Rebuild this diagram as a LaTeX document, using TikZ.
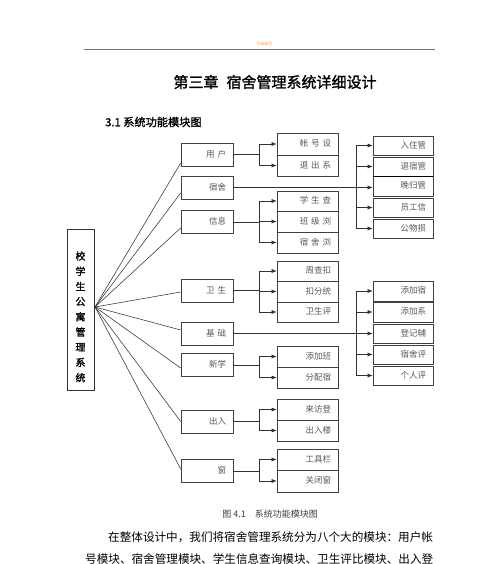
\documentclass[tikz,border=0pt]{standalone}
\usepackage{fontspec}
\setmainfont{Noto Sans CJK SC}
\newfontfamily\cjkb[FakeBold=1.5]{Noto Sans CJK SC}
\usetikzlibrary{arrows.meta,calc}
\tikzset{
  bx/.style={draw=black!75, line width=0.6pt, inner sep=0pt, inner xsep=7pt,
    font=\fontsize{8.5}{9}\selectfont, text=black!65, align=right,
    text height=7pt, text depth=1.5pt},
  lv/.style={bx, minimum width=52pt, text width=38pt, minimum height=23pt},
  md/.style={bx, minimum width=61pt, text width=47pt},
  rt/.style={bx, minimum width=60pt, text width=46pt},
  conn/.style={draw=black!80, line width=0.55pt},
  arr/.style={conn, -{Latex[length=5pt,width=4pt]}},
  fan/.style={draw=black!80, line width=0.55pt}
}
\begin{document}
\begin{tikzpicture}[x=1pt,y=-1pt]
\useasboundingbox (0,0) rectangle (500,564);
\fill[white] (0,0) rectangle (500,564);
% header
\node[font=\fontsize{4}{4}\selectfont, text=orange!70] (hdr) at (265,44) {文档编号:};
\coordinate (hl) at (84,49);
\coordinate (hr) at (435,49);
\draw[black!55, line width=0.8pt] (hl) -- (hr);
\node[font=\cjkb\fontsize{15}{16}\selectfont] (title) at (275,82) {第三章\hspace{8pt}宿舍管理系统详细设计};
\node[font=\cjkb\fontsize{11.2}{12}\selectfont, anchor=west, inner sep=0] (sec) at (105,122) {3.1 系统功能模块图};

% main box
\node[draw=black!80, line width=0.7pt, minimum width=27pt, minimum height=161pt, inner sep=0] (main) at (80.5,309.5) {};
\foreach \c [count=\i] in {校,学,生,公,寓,管,理,系,统}{
  \node[font=\cjkb\fontsize{10}{10}\selectfont, inner sep=0] (m\i) at (80.5,{256+(\i-1)*15.2}) {\c};
}
\coordinate (fp) at (95,307);

% level 2
\node[lv] (u) at (207,154.5) {用\ 户};
\node[lv] (s) at (207,187.5) {宿舍};
\node[lv] (x) at (207,222) {信息};
\node[lv] (w) at (207,290.5) {卫\ 生};
\node[lv] (j) at (207,333.5) {基\ 础};
\node[lv] (n) at (207,365) {新学};
\node[lv] (c) at (207,421.5) {出入};
\node[lv] (d) at (207,471) {窗};

% fan lines
\draw[fan] (fp) -- ([yshift=-8.5pt]u.west);
\draw[fan] (fp) -- ([yshift=-5.5pt]s.west);
\draw[fan] (fp) -- ([yshift=-6pt]x.west);
\draw[fan] (fp) -- ([yshift=-1.5pt]w.west);
\draw[fan] (fp) -- ([yshift=3.5pt]j.west);
\draw[fan] (fp) -- ([yshift=-3pt]n.west);
\draw[fan] (fp) -- (c.west);
\draw[fan] (fp) -- ([yshift=2pt]d.west);

% middle column
\node[md, minimum height=22pt] (u1) at (307.5,144) {帐\ 号\ 设};
\node[md, minimum height=21pt] (u2) at (307.5,165.5) {退\ 出\ 系};
\node[md, minimum height=20pt] (x1) at (307.5,201) {学\ 生\ 查};
\node[md, minimum height=21pt] (x2) at (307.5,221.5) {班\ 级\ 浏};
\node[md, minimum height=21pt] (x3) at (307.5,242.5) {宿\ 舍\ 浏};
\node[md, minimum height=20pt] (w1) at (307.5,271) {周查扣};
\node[md, minimum height=21pt] (w2) at (307.5,291.5) {扣分统};
\node[md, minimum height=20pt] (w3) at (307.5,312) {卫生评};
\node[md, minimum height=21pt] (n1) at (307.5,356.5) {添加班};
\node[md, minimum height=21pt] (n2) at (307.5,377.5) {分配宿};
\node[md, minimum height=21pt] (c1) at (307.5,409.5) {来访登};
\node[md, minimum height=21pt] (c2) at (307.5,430.5) {出入楼};
\node[md, minimum height=21pt] (d1) at (307.5,459.5) {工具栏};
\node[md, minimum height=22pt] (d2) at (307.5,481) {关闭窗};

% right column
\node[rt, minimum height=19pt] (r1) at (403,145.5) {入住管};
\node[rt, minimum height=19pt] (r2) at (403,166.5) {退宿管};
\node[rt, minimum height=20pt] (r3) at (403,186) {晚归管};
\node[rt, minimum height=19pt] (r4) at (403,207.5) {员工信};
\node[rt, minimum height=19pt] (r5) at (403,228.5) {公物损};
\node[rt, minimum height=20pt] (q1) at (403,291) {添加宿};
\node[rt, minimum height=20pt] (q2) at (403,312) {添加系};
\node[rt, minimum height=19pt] (q3) at (403,333.5) {登记辅};
\node[rt, minimum height=19pt] (q4) at (403,354.5) {宿舍评};
\node[rt, minimum height=19pt] (q5) at (403,375.5) {个人评};
\draw[black, line width=1.4pt] (r2.south west) -- (r2.south east);

% branch coordinates
\coordinate (b1) at (259,0);
\coordinate (b2) at (356,0);

% connectors: level2 -> middle column
\foreach \p/\kids in {u/{u1,u2}, x/{x1,x2,x3}, w/{w1,w2,w3}, n/{n1,n2}, c/{c1,c2}, d/{d1,d2}}{
  \draw[conn] (\p.east) -- (\p.east -| b1);
  \foreach \k in \kids {
    \draw[arr] (\k.west -| b1) -- (\k.west);
  }
}
\draw[conn] (u1.west -| b1) -- (u2.west -| b1);
\draw[conn] (x1.west -| b1) -- (x3.west -| b1);
\draw[conn] (w1.west -| b1) -- (w3.west -| b1);
\draw[conn] (n1.west -| b1) -- (n2.west -| b1);
\draw[conn] (c1.west -| b1) -- (c2.west -| b1);
\draw[conn] (d1.west -| b1) -- (d2.west -| b1);

% connectors: level2 -> right column
\draw[conn] (s.east) -- (s.east -| b2);
\draw[conn] (r1.west -| b2) -- (r5.west -| b2);
\foreach \k in {r1,r2,r4,r5} { \draw[arr] (\k.west -| b2) -- (\k.west); }
\draw[arr] (s.east -| b2) -- (s.east -| r3.west);
\draw[conn] (j.east) -- (j.east -| b2);
\draw[conn] (q1.west -| b2) -- (q5.west -| b2);
\foreach \k in {q1,q2,q4,q5} { \draw[arr] (\k.west -| b2) -- (\k.west); }
\draw[arr] (j.east -| b2) -- (j.east -| q3.west);

% caption and body text
\node[font=\fontsize{9}{9}\selectfont, text=black!75] (cap) at (270,514) {图 4.1\quad 系统功能模块图};
\node[font=\fontsize{11.6}{12}\selectfont, anchor=west, inner sep=0] (t1) at (108,537) {在整体设计中，我们将宿舍管理系统分为八个大的模块：用户帐};
\node[font=\fontsize{11.6}{12}\selectfont, anchor=west, inner sep=0] (t2) at (85,559) {号模块、宿舍管理模块、学生信息查询模块、卫生评比模块、出入登};
\end{tikzpicture}
\end{document}
